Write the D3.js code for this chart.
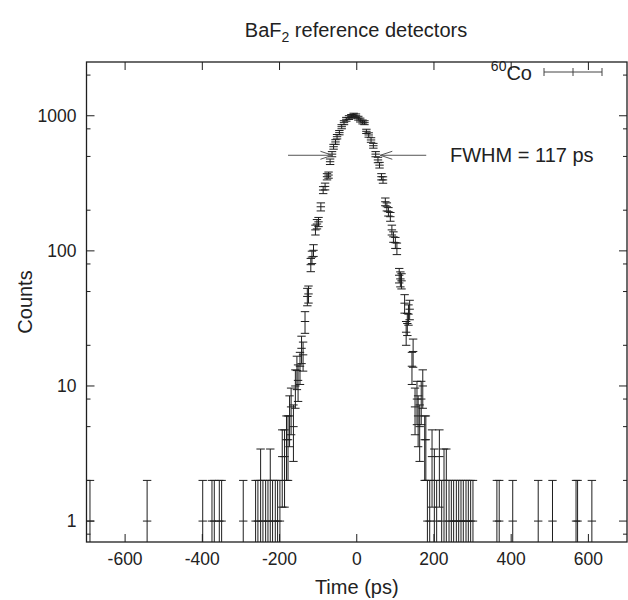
<!DOCTYPE html>
<html>
<head>
<meta charset="utf-8">
<script src="https://cdn.jsdelivr.net/npm/d3@7/dist/d3.min.js"></script>
<style>
  body { margin: 0; background: #fff; }
  text { font-family: "Liberation Sans", Arial, Helvetica, sans-serif; fill: #222; }
</style>
</head>
<body>
<div id="chart"></div>
<script>
// time bins (ps) and counts
const times = [
  -691, -543, -399, -375, -369, -356, -350, -294, -262, -256, -249, -243, -236, -230,
  -224, -218, -211, -205, -199, -193, -187, -182, -178, -174, -170, -164, -159, -155,
  -152, -147, -143, -139, -134, -128, -125, -119, -116, -112, -107, -103, -99, -93,
  -87, -82, -77, -73, -69, -64, -60, -55, -51, -45, -39, -33, -27, -20, -14, -8, -2,
  4, 9, 15, 20, 25, 31, 37, 43, 49, 55, 59, 64, 68, 74, 78, 82, 87, 91, 95, 100, 104,
  110, 113, 116, 124, 128, 131, 134, 137, 143, 146, 151, 156, 159, 163, 167, 171, 176,
  179, 183, 189, 195, 201, 207, 214, 220, 226, 232, 239, 245, 251, 258, 264, 270, 276,
  283, 289, 295, 301, 363, 369, 404, 470, 507, 568, 572, 609
];
const counts = [
  1, 1, 1, 1, 1, 1, 1, 1, 1, 1, 2, 1, 1, 1,
  2, 1, 1, 1, 1, 3, 3, 4, 4, 6, 7, 5, 10, 13,
  11, 14, 19, 17, 30, 46, 48, 79, 90, 101, 143, 158, 164, 212,
  282, 300, 354, 364, 457, 520, 590, 640, 700, 750, 830, 889, 942, 970, 990, 1012, 1000,
  960, 930, 900, 889, 767, 721, 662, 600, 520, 471, 431, 354, 335, 231, 212, 195, 179, 143, 127, 115, 104,
  66, 62, 60, 41, 25, 29, 34, 37, 14, 18, 7, 8, 6, 5, 8, 10, 4,
  4, 1, 1, 3, 2, 1, 3, 1, 2, 2, 1, 1, 1, 1, 1, 1, 1,
  1, 1, 1, 1, 1, 1, 1, 1, 1, 1, 1, 1
];

const xTicks = [-600, -400, -200, 0, 200, 400, 600];
const yTicks = [1, 10, 100, 1000];
const yMinorTicks = [0.8, 2, 5, 8, 20, 50, 80, 200, 500, 800, 2000];

const fwhmLevel = 510;        // half maximum
const fwhmEdges = [-63, 61];  // arrow tips
const fwhmLineEnds = [-178, 180];

const W = 628, H = 600;
const plot = { left: 86.5, right: 627, top: 62, bottom: 542 };
const ink = "#1e1e1e";

const data = times.map((t, i) => ({ t: t, n: counts[i], e: Math.sqrt(counts[i]) }));

const svg = d3.select("#chart").append("svg")
  .attr("width", W)
  .attr("height", H);

const x = d3.scaleLinear().domain([-700, 700]).range([plot.left, plot.right]);
const y = d3.scaleLog().domain([0.7, 2500]).range([plot.bottom, plot.top]);

svg.append("defs").append("clipPath").attr("id", "clip")
  .append("rect")
  .attr("x", plot.left).attr("y", plot.top)
  .attr("width", plot.right - plot.left).attr("height", plot.bottom - plot.top);

// ticks (inward, mirrored on all sides)
const majorLen = 8, minorLen = 4;
const tk = svg.append("g").attr("stroke", ink).attr("stroke-width", 1);
xTicks.forEach(v => {
  tk.append("line").attr("x1", x(v)).attr("x2", x(v)).attr("y1", plot.bottom).attr("y2", plot.bottom - majorLen);
  tk.append("line").attr("x1", x(v)).attr("x2", x(v)).attr("y1", plot.top).attr("y2", plot.top + majorLen);
});
yTicks.forEach(v => {
  tk.append("line").attr("x1", plot.left).attr("x2", plot.left + majorLen).attr("y1", y(v)).attr("y2", y(v));
  tk.append("line").attr("x1", plot.right).attr("x2", plot.right - majorLen).attr("y1", y(v)).attr("y2", y(v));
});
yMinorTicks.forEach(v => {
  tk.append("line").attr("x1", plot.left).attr("x2", plot.left + minorLen).attr("y1", y(v)).attr("y2", y(v));
  tk.append("line").attr("x1", plot.right).attr("x2", plot.right - minorLen).attr("y1", y(v)).attr("y2", y(v));
});

// tick labels
svg.append("g").selectAll("text").data(xTicks).enter().append("text")
  .attr("x", d => x(d))
  .attr("y", plot.bottom + 23)
  .attr("text-anchor", "middle")
  .style("font-size", "17.5px")
  .text(d => d);

svg.append("g").selectAll("text").data(yTicks).enter().append("text")
  .attr("x", plot.left - 10)
  .attr("y", d => y(d))
  .attr("dy", "0.35em")
  .attr("text-anchor", "end")
  .style("font-size", "17.5px")
  .text(d => d);

// error bars with caps and plus markers
const capW = 4.2;
const marks = svg.append("g").attr("clip-path", "url(#clip)")
  .attr("stroke", ink).attr("stroke-width", 1).attr("fill", "none");

const bars = marks.selectAll(".bar").data(data).enter().append("g").attr("class", "bar");
bars.append("line")
  .attr("x1", d => x(d.t)).attr("x2", d => x(d.t))
  .attr("y1", d => y(Math.max(d.n - d.e, 0.5)))
  .attr("y2", d => y(d.n + d.e));
bars.append("line")
  .attr("x1", d => x(d.t) - capW).attr("x2", d => x(d.t) + capW)
  .attr("y1", d => y(d.n + d.e)).attr("y2", d => y(d.n + d.e));
bars.filter(d => d.n - d.e > 0.7).append("line")
  .attr("x1", d => x(d.t) - capW).attr("x2", d => x(d.t) + capW)
  .attr("y1", d => y(d.n - d.e)).attr("y2", d => y(d.n - d.e));
bars.append("line")
  .attr("x1", d => x(d.t) - capW).attr("x2", d => x(d.t) + capW)
  .attr("y1", d => y(d.n)).attr("y2", d => y(d.n));

// frame
svg.append("rect")
  .attr("x", plot.left).attr("y", plot.top)
  .attr("width", plot.right - plot.left).attr("height", plot.bottom - plot.top)
  .attr("fill", "none").attr("stroke", ink).attr("stroke-width", 1.3);

// FWHM arrows
const arr = svg.append("g").attr("stroke", "#555").attr("stroke-width", 1).attr("fill", "none");
const yf = y(fwhmLevel);
const headL = 12, headH = 4;
arr.append("line").attr("x1", x(fwhmLineEnds[0])).attr("x2", x(fwhmEdges[0])).attr("y1", yf).attr("y2", yf);
arr.append("path").attr("d",
  `M${x(fwhmEdges[0]) - headL},${yf - headH}L${x(fwhmEdges[0])},${yf}L${x(fwhmEdges[0]) - headL},${yf + headH}`);
arr.append("line").attr("x1", x(fwhmLineEnds[1])).attr("x2", x(fwhmEdges[1])).attr("y1", yf).attr("y2", yf);
arr.append("path").attr("d",
  `M${x(fwhmEdges[1]) + headL},${yf - headH}L${x(fwhmEdges[1])},${yf}L${x(fwhmEdges[1]) + headL},${yf + headH}`);

svg.append("text")
  .attr("x", 450).attr("y", 162)
  .style("font-size", "20px")
  .text("FWHM = 117 ps");

// legend
const lg = svg.append("g");
const legText = lg.append("text").attr("x", 532).attr("y", 80).attr("text-anchor", "end").style("font-size", "20px");
legText.append("tspan").attr("dy", "-9").style("font-size", "14px").text("60");
legText.append("tspan").attr("dy", "9").text("Co");
const ly = 72, lx1 = 544, lx2 = 602;
const lgl = lg.append("g").attr("stroke", "#444").attr("stroke-width", 1);
lgl.append("line").attr("x1", lx1).attr("x2", lx2).attr("y1", ly).attr("y2", ly);
lgl.append("line").attr("x1", lx1).attr("x2", lx1).attr("y1", ly - 4).attr("y2", ly + 4);
lgl.append("line").attr("x1", lx2).attr("x2", lx2).attr("y1", ly - 4).attr("y2", ly + 4);
lgl.append("line").attr("x1", (lx1 + lx2) / 2).attr("x2", (lx1 + lx2) / 2).attr("y1", ly - 4).attr("y2", ly + 4);

// title and axis labels
const title = svg.append("text")
  .attr("x", 356).attr("y", 37)
  .attr("text-anchor", "middle")
  .style("font-size", "20px");
title.append("tspan").text("BaF");
title.append("tspan").attr("dy", "5").style("font-size", "14px").text("2");
title.append("tspan").attr("dy", "-5").text(" reference detectors");

svg.append("text")
  .attr("x", (plot.left + plot.right) / 2).attr("y", 594)
  .attr("text-anchor", "middle")
  .style("font-size", "20px")
  .text("Time (ps)");

svg.append("text")
  .attr("transform", `translate(32,${(plot.top + plot.bottom) / 2}) rotate(-90)`)
  .attr("text-anchor", "middle")
  .style("font-size", "20px")
  .text("Counts");
</script>
</body>
</html>
